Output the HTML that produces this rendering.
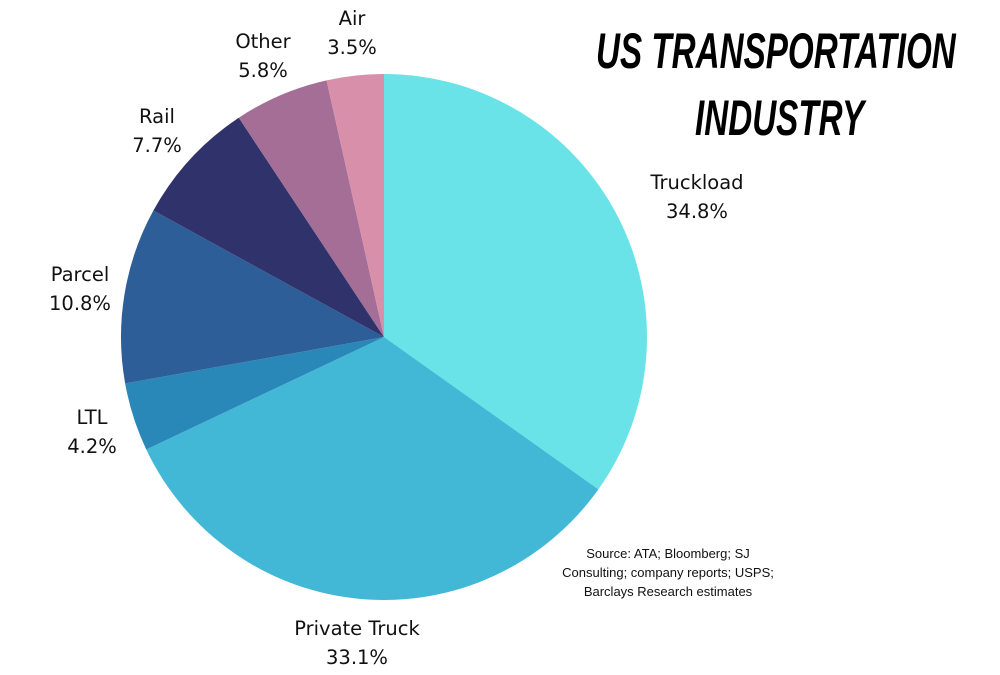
<!DOCTYPE html>
<html><head><meta charset="utf-8">
<style>
html,body{margin:0;padding:0;background:#fff;}
body{width:1000px;height:675px;overflow:hidden;position:relative;font-family:"Liberation Sans",sans-serif;}
svg{position:absolute;left:0;top:0;}
.title{position:absolute;white-space:nowrap;font-family:"Liberation Sans",sans-serif;font-weight:bold;font-style:italic;font-size:50px;line-height:50px;color:#000;transform-origin:0 0;}
</style></head>
<body>
<div class="title" id="t1" style="left:596px;top:26px;">US TRANSPORTATION</div>
<div class="title" id="t2" style="left:695px;top:93px;">INDUSTRY</div>
<svg id="chart" width="1000" height="675"></svg>
<script>
const categories=["Truckload","Private Truck","LTL","Parcel","Rail","Other","Air"];
const values=[34.8,33.1,4.2,10.8,7.7,5.8,3.5];
const colors=["#6AE3E8","#42B7D6","#2A88B8","#2D5E98","#30336B","#A46E96","#D78FAA"];
const labelPos=[[697,196],[357,642],[92,431],[80,288],[157,130],[263,55],[352,32]];
(function(){
  const t1=document.getElementById('t1'),t2=document.getElementById('t2');
  const s=360/t1.offsetWidth;
  t1.style.transform='scaleX('+s+')';
  t2.style.transform='scaleX('+s+')';
})();
const NS="http://www.w3.org/2000/svg";
const svg=document.getElementById('chart');
const cx=384,cy=337,r=263;
const total=values.reduce((a,b)=>a+b,0);
function pt(frac){const a=frac*2*Math.PI;return [cx+r*Math.sin(a),cy-r*Math.cos(a)];}
let acc=0;
values.forEach((v,i)=>{
  const s=acc/total,e=(acc+v)/total;acc+=v;
  const p1=pt(s),p2=pt(e);const large=(e-s)>0.5?1:0;
  const path=document.createElementNS(NS,'path');
  path.setAttribute('d',`M${cx},${cy}L${p1[0]},${p1[1]}A${r},${r} 0 ${large} 1 ${p2[0]},${p2[1]}Z`);
  path.setAttribute('fill',colors[i]);
  
  
  svg.appendChild(path);
  const [lx,ly]=labelPos[i];
  const t=document.createElementNS(NS,'text');
  t.setAttribute('x',lx);t.setAttribute('y',ly-7);
  t.setAttribute('text-anchor','middle');t.setAttribute('font-size','19.5');
  t.setAttribute('font-family','"DejaVu Sans","Liberation Sans",sans-serif');
  t.setAttribute('fill','#111');
  
  
  const a=document.createElementNS(NS,'tspan');a.setAttribute('x',lx);a.textContent=categories[i];
  const b=document.createElementNS(NS,'tspan');b.setAttribute('x',lx);b.setAttribute('dy','29');b.textContent=v.toFixed(1)+'%';
  t.appendChild(a);t.appendChild(b);svg.appendChild(t);
});
const src=["Source: ATA; Bloomberg; SJ","Consulting; company reports; USPS;","Barclays Research estimates"];
const st=document.createElementNS(NS,'text');
st.setAttribute('text-anchor','middle');st.setAttribute('font-size','13');st.setAttribute('fill','#111');


src.forEach((l,i)=>{const ts=document.createElementNS(NS,'tspan');ts.setAttribute('x',668);ts.setAttribute('y',558+i*19);ts.textContent=l;st.appendChild(ts);});
svg.appendChild(st);
</script>
</body></html>
